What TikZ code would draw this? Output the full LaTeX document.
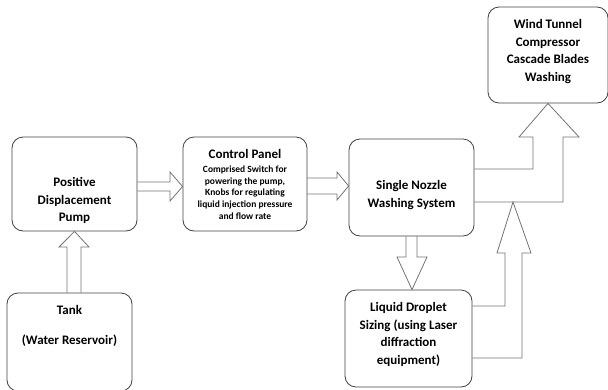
\documentclass[tikz,border=0pt]{standalone}
\usepackage{fontspec}
\setmainfont{Carlito}
\usepackage{tikz}

\tikzset{
  box/.style={draw=black!75, line width=0.8pt, rounded corners=11pt, inner sep=0pt},
  lbl/.style={align=center, font=\bfseries\fontsize{13}{17.5}\selectfont},
  small/.style={align=center, font=\bfseries\fontsize{9.5}{11.7}\selectfont},
  blockarrow/.style={draw=black!55, line width=0.8pt, line join=miter},
}

\begin{document}
\begin{tikzpicture}[x=1pt,y=-1pt]
\useasboundingbox (0,0) rectangle (608,389);

% boxes
\node[box, minimum width=125pt, minimum height=94pt] (pump) at (74.5,184) {};
\node[box, minimum width=124pt, minimum height=94pt] (ctrl) at (245,184) {};
\node[box, minimum width=125pt, minimum height=97pt] (nozzle) at (411.5,187.5) {};
\node[box, minimum width=125pt, minimum height=98pt] (tank) at (69.5,342) {};
\node[box, minimum width=120pt, minimum height=96pt] (wind) at (548,55) {};
\node[box, minimum width=127pt, minimum height=97pt] (droplet) at (408.5,338.5) {};

% texts
\node[lbl] (pumplbl) at (74.5,200.5) {Positive\\Displacement\\Pump};
\node[lbl] (ctrllbl) at (245,154) {Control Panel};
\node[small] (ctrltxt) at (245,192.5) {Comprised Switch for\\powering the pump,\\Knobs for regulating\\liquid injection pressure\\and flow rate};
\node[lbl] (nozzlelbl) at (411.5,195) {Single Nozzle\\Washing System};
\node[lbl] (tanklbl) at (69.5,326) {Tank\\[12.5pt](Water Reservoir)};
\node[lbl] (windlbl) at (548,51.5) {Wind Tunnel\\Compressor\\Cascade Blades\\Washing};
\node[lbl] (dropletlbl) at (408.5,334.5) {Liquid Droplet\\Sizing (using Laser\\diffraction\\equipment)};

% block arrows
\draw[blockarrow] (tank.north -| 67,0) -- (67,247) -- (59,247) -- (pump.south) -- (89,247) -- (81,247) -- (tank.north -| 81,0);
\draw[blockarrow] (pump.east |- 0,182) -- (170,182) -- (170,172) -- (ctrl.west |- 0,186.5) -- (170,201) -- (170,191) -- (pump.east |- 0,191);
\draw[blockarrow] (ctrl.east |- 0,178) -- (337,178) -- (337,172) -- (nozzle.west |- 0,186) -- (337,200) -- (337,194) -- (ctrl.east |- 0,194);
\draw[blockarrow] (nozzle.south -| 406,0) -- (406,257) -- (397,257) -- (droplet.north -| 412,0) -- (427,257) -- (417,257) -- (nozzle.south -| 417,0);
\draw[blockarrow] (nozzle.east |- 0,169) -- (533,169) -- (533,137) -- (519,137) -- (wind.south) -- (579,137) -- (563,137) -- (563,202) -- (nozzle.east |- 0,202);
\coordinate (join) at (513,202);
\draw[blockarrow] (droplet.east |- 0,306) -- (505,306) -- (505,253) -- (497,253) -- (join) -- (531,253) -- (522,253) -- (522,358) -- (droplet.east |- 0,358);
\end{tikzpicture}
\end{document}
